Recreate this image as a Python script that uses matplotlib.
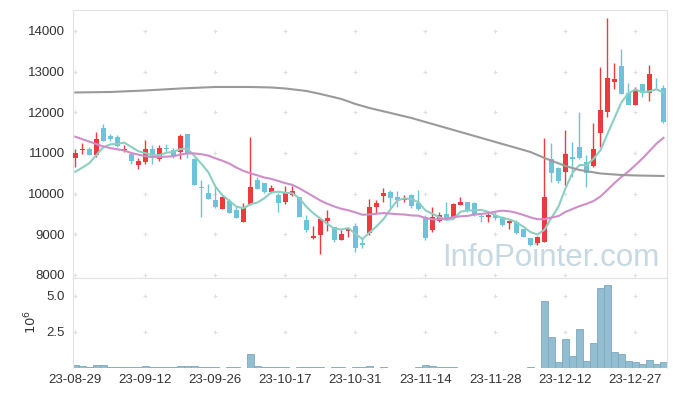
import matplotlib
matplotlib.use("Agg")
import matplotlib.pyplot as plt
import numpy as np
import pandas as pd

plt.rcParams['font.family'] = ['Liberation Sans', 'DejaVu Sans']

# ---- data ----
opens = [10870, 11065, 11105, 10950, 11605, 11415, 11385, 11080, 10975, 10705,
         10785, 11100, 10860, 11122, 11075, 11035, 11460, 10855, 10165, 10010,
         9845, 9630, 9820, 9600, 9310, 9740, 10335, 10255, 10050, 9967,
         9787, 9967, 9910, 9352, 8909, 8983, 9336, 9180, 8868, 9081,
         9213, 8786, 9024, 9672, 9951, 10049, 9918, 9844, 9967, 9762,
         9434, 9106, 9328, 9491, 9434, 9721, 9790, 9762, 9450, 9418,
         9475, 9418, 9270, 9311, 9123, 8901, 8794, 8819, 10844, 10623,
         10541, 10908, 11154, 10785, 10687, 11498, 12015, 12753, 13138, 12482,
         12179, 12696, 12482, 12728, 12589]
highs = [11110, 11250, 11155, 11510, 11705, 11466, 11440, 11196, 10990, 10870,
         11320, 11196, 11196, 11212, 11130, 11460, 11460, 10870, 10340, 10230,
         10190, 9935, 9870, 9696, 9762, 11400, 10418, 10260, 10213, 10008,
         10197, 10197, 9926, 9475, 9213, 9393, 9598, 9180, 9106, 9131,
         9270, 8942, 9860, 9844, 10131, 10090, 10065, 9967, 9985, 10090,
         9475, 9680, 9541, 9803, 9762, 9926, 9800, 9803, 9516, 9573,
         9557, 9450, 9352, 9352, 9140, 8910, 8958, 11361, 11254, 10664,
         11566, 11277, 12015, 10949, 11728, 13122, 14311, 13204, 13548, 12712,
         12614, 12700, 13163, 12835, 12671]
lows = [10660, 10970, 10955, 10890, 11300, 11303, 11140, 11032, 10720, 10600,
        10720, 10720, 10810, 11016, 10885, 10845, 10870, 10210, 9435, 9870,
        9655, 9615, 9515, 9393, 9310, 9720, 10106, 10008, 10008, 9557,
        9737, 9951, 9434, 9065, 8885, 8507, 9090, 8819, 8860, 8942,
        8573, 8655, 8985, 9516, 9803, 9680, 9680, 9803, 9639, 9600,
        8860, 9065, 9311, 9352, 9418, 9721, 9560, 9450, 9311, 9311,
        9352, 9213, 9131, 9008, 8925, 8720, 8737, 8800, 10295, 10254,
        10213, 10420, 10850, 10170, 10662, 11154, 11876, 12564, 12440, 12170,
        12170, 12384, 12286, 12589, 11728]
closes = [10990, 11105, 10960, 11345, 11305, 11345, 11170, 11105, 10810, 10795,
          11100, 10910, 11120, 11098, 10925, 11420, 10990, 10210, 10130, 9875,
          9680, 9910, 9530, 9410, 9680, 10165, 10125, 10050, 10139, 9762,
          10033, 10057, 9434, 9106, 8958, 9377, 9393, 8860, 9008, 9131,
          8672, 8737, 9664, 9762, 10016, 9901, 9844, 9885, 9705, 9614,
          8901, 9418, 9475, 9352, 9737, 9787, 9590, 9475, 9418, 9475,
          9393, 9229, 9328, 9040, 8942, 8737, 8926, 9910, 10516, 10320,
          10976, 10842, 10867, 10498, 11088, 12056, 12835, 12819, 12450, 12179,
          12523, 12482, 12942, 12712, 11769]
volumes = [0.24, 0.17, 0.07, 0.24, 0.24, 0.07, 0.07, 0.07, 0.07, 0.07,
           0.17, 0.07, 0.07, 0.07, 0.07, 0.17, 0.17, 0.17, 0.07, 0.07,
           0.07, 0.0, 0.06, 0.06, 0.0, 0.94, 0.17, 0.07, 0.07, 0.07,
           0.07, 0.0, 0.07, 0.07, 0.07, 0.07, 0.0, 0.07, 0.07, 0.0,
           0.07, 0.07, 0.17, 0.0, 0.07, 0.0, 0.0, 0.0, 0.0, 0.07,
           0.24, 0.17, 0.07, 0.07, 0.07, 0.0, 0.0, 0.0, 0.0, 0.0,
           0.0, 0.0, 0.0, 0.0, 0.0, 0.07, 0.0, 4.62, 2.15, 0.40,
           2.00, 0.80, 2.70, 0.52, 1.72, 5.54, 5.78, 1.10, 1.00, 0.47,
           0.40, 0.30, 0.54, 0.30, 0.45]

# moving averages at the start of the window (depend on earlier, unseen prices)
ma5_head = [10540, 10640, 10750, 10950]
ma20_head = [11400, 11340, 11280, 11220, 11160, 11120, 11090, 11060, 11000, 10960,
             10920, 10900, 10900, 10910, 10920, 10960, 10990, 10990, 10970]
# long moving average (candle index, value)
ma_long_idx = [0, 5, 10, 15, 20, 25, 28, 30, 33, 35, 38, 40, 42, 45, 48, 50,
               53, 55, 58, 60, 63, 65, 67, 70, 72, 75, 78, 80, 84]
ma_long_val = [12488, 12500, 12537, 12586, 12623, 12623, 12611, 12586, 12525, 12451,
               12328, 12205, 12107, 11984, 11861, 11762, 11615, 11516, 11369, 11270,
               11123, 11025, 10877, 10680, 10582, 10496, 10459, 10447, 10435]

tick_labels = ['23-08-29', '23-09-12', '23-09-26', '23-10-17', '23-10-31',
               '23-11-14', '23-11-28', '23-12-12', '23-12-27']
price_ticks = [8000, 9000, 10000, 11000, 12000, 13000, 14000]
vol_ticks = [2.5, 5.0]

# ---- derived ----
n = len(closes)
x = np.arange(n)
cs = pd.Series(closes, dtype=float)
ma5 = cs.rolling(5).mean().to_numpy()
ma5[:len(ma5_head)] = ma5_head
ma20 = cs.rolling(20).mean().to_numpy()
ma20[:len(ma20_head)] = ma20_head

RED = '#ec3a3f'
BLUE = '#6cc3da'
TXT = '#333333'
GRIDC = '#e0e0e0'

W, H = 677, 396
fig = plt.figure(figsize=(W / 100, H / 100), dpi=100)
ax = fig.add_axes([73 / W, 1 - 278 / H, 594 / W, 268 / H])
axv = fig.add_axes([73 / W, 1 - 368 / H, 594 / W, 90 / H])

xlim = (-0.33, 84.5)
tick_pos = list(range(0, n, 10))[:len(tick_labels)]

# grid crosses
for tp in tick_pos:
    ax.scatter([tp] * len(price_ticks), price_ticks, marker='+', s=10,
               color=GRIDC, linewidths=0.8, zorder=0)
    axv.scatter([tp] * len(vol_ticks), vol_ticks, marker='+', s=10,
                color=GRIDC, linewidths=0.8, zorder=0)

# candles
o = np.array(opens, float); c = np.array(closes, float)
hi = np.array(highs, float); lo = np.array(lows, float)
up = c >= o
cols = np.where(up, RED, BLUE)
ax.vlines(x, lo, hi, colors=cols, linewidth=1.0, zorder=2)
body_h = np.maximum(np.abs(c - o), 18)
ax.bar(x, body_h, bottom=np.minimum(o, c), width=0.72, color=cols, zorder=3)

# moving averages
ax.plot(x, ma5, color='#8ccfc2', lw=1.5, zorder=4)
ax.plot(x, ma20, color='#cf8ec9', lw=1.5, zorder=4)
ax.plot(ma_long_idx, ma_long_val, color='#9a9a9a', lw=1.5, zorder=4)

ax.set_xlim(*xlim)
ax.set_ylim(7926, 14516)
ax.set_yticks(price_ticks)
ax.set_yticklabels([str(t) for t in price_ticks])
ax.set_xticks([])
ax.tick_params(axis='y', length=0, pad=6, labelsize=9.5, labelcolor=TXT)

# volume
axv.bar(x, volumes, width=1.0, color='#93bdd0', edgecolor='#7ea9bd',
        linewidth=0.6, zorder=2)
axv.set_xlim(*xlim)
axv.set_ylim(0, 6.25)
axv.set_yticks(vol_ticks)
axv.set_yticklabels(['2.5', '5.0'])
axv.set_xticks(tick_pos)
axv.set_xticklabels(tick_labels)
axv.tick_params(axis='both', length=0, labelsize=9.5, labelcolor=TXT)
axv.tick_params(axis='y', pad=6)
axv.tick_params(axis='x', pad=4)
fig.text(31 / W, 1 - 322 / H, r'$10^6$', rotation=90, ha='center', va='center',
         fontsize=9.5, color=TXT)

for a in (ax, axv):
    for s in a.spines.values():
        s.set_color('#e2e2e2')
        s.set_linewidth(0.8)
axv.spines['bottom'].set_visible(False)

# watermark
ax.text(0.988, 0.02, 'InfoPointer.com', transform=ax.transAxes, ha='right',
        va='bottom', fontsize=22.5, color='#c6d8e2', zorder=1,
        family=['Liberation Sans Narrow', 'Liberation Sans', 'DejaVu Sans'])

fig.savefig('out.png', dpi=100)
